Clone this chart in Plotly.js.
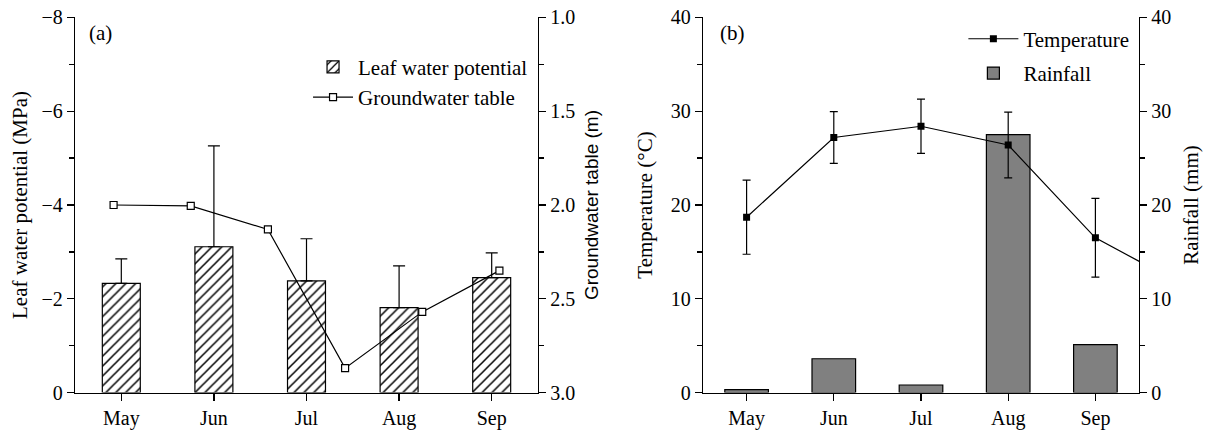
<!DOCTYPE html>
<html><head><meta charset="utf-8">
<script src="https://cdn.plot.ly/plotly-3.0.1.min.js"></script>
<style>html,body{margin:0;padding:0;background:#fff}</style>
</head><body><div id="chart" style="width:1208px;height:432px"></div>
<script>
// Panel (a)
const months = ['May', 'Jun', 'Jul', 'Aug', 'Sep'];
const leafWaterPotential = [-2.33, -3.11, -2.38, -1.81, -2.45];
const leafWaterPotentialErr = [0.52, 2.15, 0.90, 0.89, 0.53];
const gwSamples = ['1', '2', '3', '4', '5', '6'];
const groundwaterTable = [2.00, 2.005, 2.13, 2.87, 2.57, 2.35];
// Panel (b)
const tempMonths = ['May', 'Jun', 'Jul', 'Aug', 'Sep', 'Oct'];
const temperature = [18.7, 27.2, 28.4, 26.4, 16.5, 11.5];
const temperatureErr = [3.95, 2.75, 2.9, 3.5, 4.2, 0];
const rainfall = [0.3, 3.6, 0.8, 27.5, 5.1];
const rainMonths = months;

const FONT = 'Liberation Serif, Times New Roman, serif';
const SANS = 'Liberation Sans, Arial, sans-serif';
const yDom = [0.0914, 0.9595];
const xDomA = [0.06209, 0.44536];
const xDomB = [0.58195, 0.94288];

const traces = [
  {
    type: 'bar', x: months, y: leafWaterPotential, name: 'Leaf water potential',
    xaxis: 'x', yaxis: 'y', width: 0.41, legend: 'legend', legendgroup: 'a1',
    marker: {color: 'white', line: {color: 'black', width: 1.2},
             pattern: {shape: '/', fgcolor: 'black', bgcolor: 'white', size: 7, solidity: 0.22}},
    error_y: {type: 'data', symmetric: false, array: leafWaterPotentialErr.map(() => 0),
              arrayminus: leafWaterPotentialErr, color: 'black', thickness: 1.2, width: 6}
  },
  {
    type: 'scatter', mode: 'lines+markers', x: gwSamples, y: groundwaterTable, name: 'Groundwater table',
    xaxis: 'x3', yaxis: 'y2', legend: 'legend', legendgroup: 'a2',
    line: {color: 'black', width: 1.2},
    marker: {symbol: 'square', size: 7, color: 'white', line: {color: 'black', width: 1.2}}
  },
  {
    type: 'bar', x: rainMonths, y: rainfall, name: 'Rainfall',
    xaxis: 'x2', yaxis: 'y3', width: 0.5, legend: 'legend2', legendgroup: 'b2', legendrank: 2,
    marker: {color: '#808080', line: {color: 'black', width: 1.2}}
  },
  {
    type: 'scatter', mode: 'lines+markers', x: tempMonths, y: temperature, name: 'Temperature',
    xaxis: 'x2', yaxis: 'y4', legend: 'legend2', legendgroup: 'b1', legendrank: 1,
    line: {color: 'black', width: 1.2},
    marker: {symbol: 'square', size: 7, color: 'black'},
    error_y: {type: 'data', array: temperatureErr, color: 'black', thickness: 1.2, width: 4}
  }
];

const axisCommon = {
  showline: true, linecolor: 'black', linewidth: 1.3, ticks: 'outside', ticklen: 7,
  tickwidth: 1.3, tickcolor: 'black', showgrid: false, zeroline: false,
  tickfont: {family: FONT, size: 20, color: 'black'}, automargin: false
};
const minorTicks = (d) => ({dtick: d, ticks: 'outside', ticklen: 5, tickwidth: 1.3, tickcolor: 'black', showgrid: false});

const layout = {
  width: 1208, height: 432, margin: {l: 0, r: 0, t: 0, b: 0},
  paper_bgcolor: 'white', plot_bgcolor: 'rgba(0,0,0,0)',
  font: {family: FONT, size: 20, color: 'black'},
  barmode: 'overlay',
  xaxis: Object.assign({}, axisCommon, {domain: xDomA, anchor: 'y', type: 'category',
    categoryorder: 'array', categoryarray: months, range: [-0.5, 4.5]}),
  xaxis3: {overlaying: 'x', anchor: 'y2', type: 'category', categoryorder: 'array',
    categoryarray: gwSamples, range: [-0.5, 5.5], visible: false, showgrid: false},
  yaxis: Object.assign({}, axisCommon, {domain: yDom, anchor: 'x', range: [0, -8], tick0: 0, dtick: 2,
    minor: minorTicks(1),
    title: {text: 'Leaf water potential (MPa)', font: {family: FONT, size: 21}, standoff: 8}}),
  yaxis2: Object.assign({}, axisCommon, {overlaying: 'y', anchor: 'x', side: 'right', range: [3.0, 1.0],
    tick0: 1, dtick: 0.5, tickformat: '.1f', minor: minorTicks(0.25),
    title: {text: 'Groundwater table (m)', font: {family: SANS, size: 19}, standoff: 10}}),
  xaxis2: Object.assign({}, axisCommon, {domain: xDomB, anchor: 'y3', type: 'category',
    categoryorder: 'array', categoryarray: tempMonths, range: [-0.5, 4.5]}),
  yaxis3: Object.assign({}, axisCommon, {domain: yDom, anchor: 'x2', side: 'right', range: [0, 40], dtick: 10,
    minor: minorTicks(5),
    title: {text: 'Rainfall (mm)', font: {family: FONT, size: 21}, standoff: 13}}),
  yaxis4: Object.assign({}, axisCommon, {overlaying: 'y3', anchor: 'x2', side: 'left', range: [0, 40], dtick: 10,
    minor: minorTicks(5),
    title: {text: 'Temperature (°C)', font: {family: FONT, size: 21}, standoff: 12}}),
  legend: {x: 0.255, y: 0.892, xanchor: 'left', yanchor: 'top', bgcolor: 'rgba(0,0,0,0)',
    traceorder: 'grouped', tracegroupgap: 0, itemwidth: 40, font: {family: FONT, size: 21, color: 'black'}},
  legend2: {x: 0.7975, y: 0.957, xanchor: 'left', yanchor: 'top', bgcolor: 'rgba(0,0,0,0)',
    traceorder: 'grouped', tracegroupgap: 4, itemwidth: 50, font: {family: FONT, size: 21, color: 'black'}},
  annotations: [
    {text: '(a)', xref: 'paper', yref: 'paper', x: 0.0718, y: 0.9236, xanchor: 'left', yanchor: 'middle',
     showarrow: false, font: {family: FONT, size: 21, color: 'black'}},
    {text: '(b)', xref: 'paper', yref: 'paper', x: 0.5942, y: 0.9236, xanchor: 'left', yanchor: 'middle',
     showarrow: false, font: {family: FONT, size: 21, color: 'black'}}
  ],
  showlegend: true
};

Plotly.newPlot('chart', traces, layout, {displayModeBar: false, staticPlot: true});
</script></body></html>
